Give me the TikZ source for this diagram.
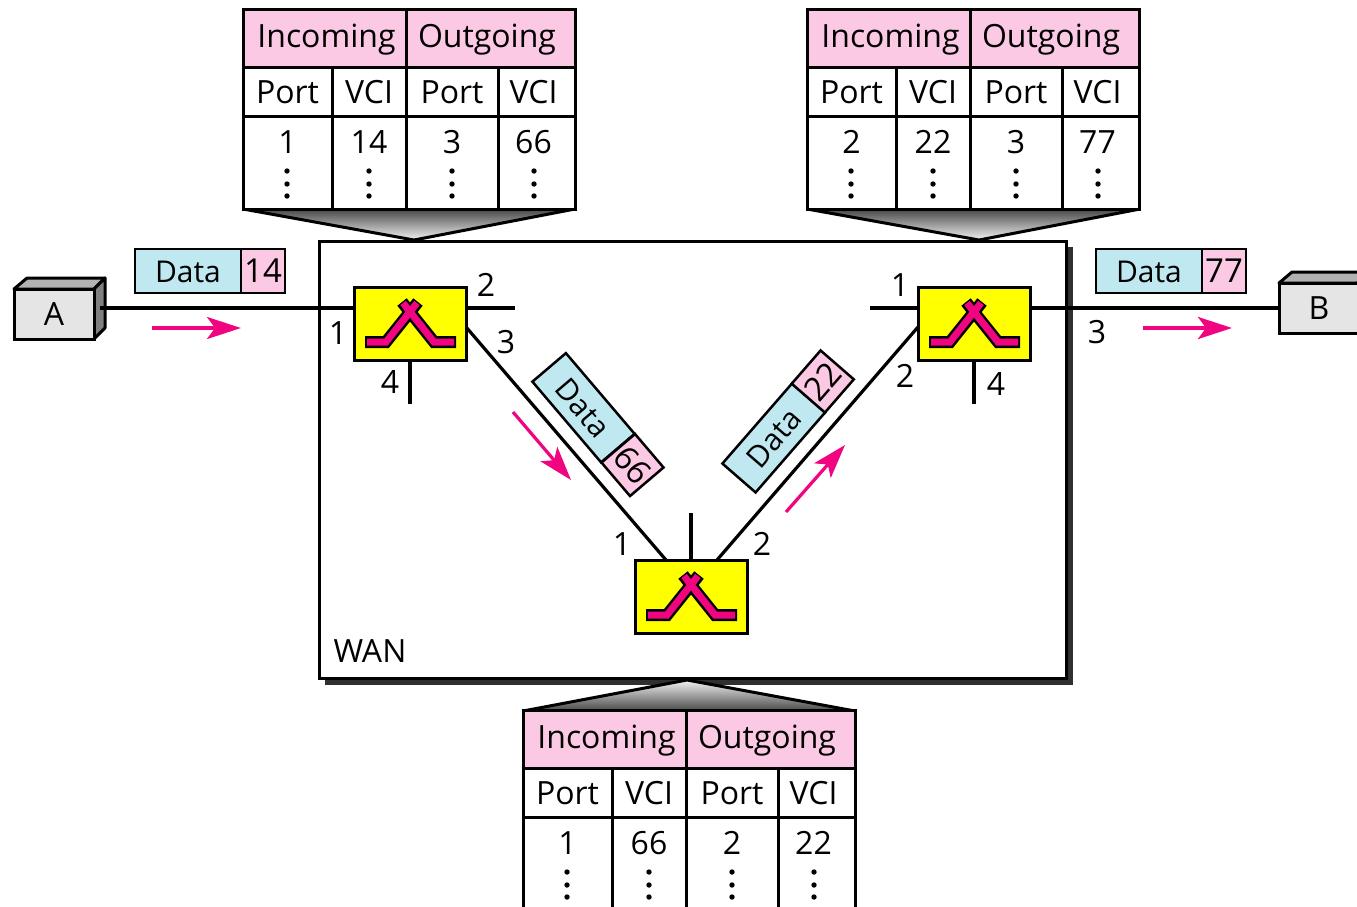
\documentclass[tikz,border=0pt]{standalone}
\usepackage{fontspec}
\setmainfont{Open Sans}
\usetikzlibrary{arrows.meta}
\definecolor{tpink}{HTML}{FCC9E4}
\definecolor{tblue}{HTML}{C0E8F0}
\definecolor{mag}{HTML}{F0047F}
\definecolor{shadowc}{HTML}{303030}
\definecolor{swyellow}{rgb}{1,1,0}
\tikzset{
  txt/.style={inner sep=0pt,outer sep=0pt,anchor=base,font=\fontsize{32}{36}\selectfont},
  cellbase/.style={draw=black,line width=3pt,inner sep=0pt,outer sep=0pt,font=\fontsize{32}{36}\selectfont,text height=23pt},
  headcell/.style={cellbase,fill=tpink,minimum width=#1,minimum height=58pt,text depth=5pt},
  subcell/.style={cellbase,fill=white,minimum width=#1,minimum height=49pt,text depth=0pt},
  valcell/.style={cellbase,fill=white,minimum width=#1,minimum height=93pt,text depth=41pt},
  tagblue/.style={draw=black,line width=2.5pt,fill=tblue,inner sep=0pt,outer sep=0pt,minimum width=#1,minimum height=44pt,font=\fontsize{30}{36}\selectfont,text height=22pt,text depth=0pt},
  tagpink/.style={draw=black,line width=2.5pt,fill=tpink,inner sep=0pt,outer sep=0pt,minimum width=#1,minimum height=44pt,font=\fontsize{33}{36}\selectfont,text height=23pt,text depth=0pt},
  link/.style={line width=3.2pt,draw=black},
  switchbox/.style={draw=black,line width=3pt,fill=swyellow,minimum width=112pt,minimum height=73pt,inner sep=0pt,outer sep=0pt},
  flow/.style={line width=3.2pt,draw=mag,-{Stealth[length=34pt,width=22pt,inset=8pt,fill=mag]}},
  hostfront/.style={draw=black,line width=3pt,fill=black!10,inner sep=0pt,outer sep=0pt,minimum width=80pt,minimum height=50pt,font=\fontsize{32}{36}\selectfont,text height=23pt,text depth=0pt},
}
% table: name prefix, x offset, y offset, four values
\newcommand{\vctable}[7]{%
  \begin{scope}[shift={(#2,#3)}]
    \node[headcell=163pt] (#1h1) at (324.5,38.5) {\kern4pt Incoming};
    \node[headcell=169pt] (#1h2) at (490.5,38.5) {Outgoing\kern7pt};
    \node[subcell=89pt] (#1s1) at (287.5,91.5) {Port};
    \node[subcell=74pt] (#1s2) at (369,91.5) {VCI};
    \node[subcell=92pt] (#1s3) at (452,91.5) {Port};
    \node[subcell=77pt] (#1s4) at (536.5,91.5) {VCI\kern6pt};
    \node[valcell=89pt] (#1v1) at (287.5,162.5) {#4};
    \node[valcell=74pt] (#1v2) at (369,162.5) {#5};
    \node[valcell=92pt] (#1v3) at (452,162.5) {#6};
    \node[valcell=77pt] (#1v4) at (536.5,162.5) {#7\kern6pt};
    \foreach \cx in {287,369,452,534}{
      \foreach \cy in {171,184,196}{
        \fill[black] (\cx,\cy) circle (2.7pt);
      }
    }
  \end{scope}%
}
% switch glyph, relative to the switch's top left corner
\newcommand{\switchicon}[2]{%
  \begin{scope}[shift={(#1,#2)}]
    \draw[line width=12pt,black,line join=miter] (11,55) -- (32,55) -- (64,15);
    \draw[line width=12pt,black,line join=miter] (102,55) -- (80,55) -- (48,15);
    \draw[line width=7pt,mag,line join=miter] (13,55) -- (32,55) -- (63,16);
    \draw[line width=7pt,mag,line join=miter] (100,55) -- (80,55) -- (49,16);
  \end{scope}%
}
\begin{document}
\begin{tikzpicture}[x=1pt,y=-1pt]
\useasboundingbox (0,0) rectangle (1357,906);
\clip (0,0) rectangle (1357,906);

% funnels
\path[draw=black,line width=3pt,top color=black!72,bottom color=black!5] (243,209) -- (414,240) -- (575,209) -- cycle;
\path[draw=black,line width=3pt,top color=black!72,bottom color=black!5] (807,209) -- (979,240) -- (1140,209) -- cycle;

% WAN box
\fill[shadowc] (325,247) rectangle (1073,685);
\node[draw=black,line width=3pt,fill=white,minimum width=747pt,minimum height=437pt,inner sep=0pt,outer sep=0pt] (wan) at (692.5,459.5) {};
\path[draw=black,line width=3pt,top color=black!5,bottom color=black!72] (523,711) -- (687,680) -- (855,711) -- cycle;

\vctable{a}{0}{0}{1}{14}{3}{66}
\vctable{b}{564}{0}{2}{22}{3}{77}
\vctable{c}{280}{701}{1}{66}{2}{22}

% hosts
\draw[line width=3pt,fill=black!30,line join=round] (14,289) -- (27,278) -- (105,278) -- (94,289) -- cycle;
\draw[line width=3pt,fill=black!50,line join=round] (94,289) -- (105,278) -- (105,328) -- (94,339) -- cycle;
\node[hostfront] (hostA) at (54,314) {A};
\draw[line width=3pt,fill=black!30,line join=round] (1279,283) -- (1292,272) -- (1370,272) -- (1357,283) -- cycle;
\node[hostfront,anchor=west] (hostB) at (1279,308) {B};

% port coordinates
\coordinate (aout) at (100,308);
\coordinate (s1w) at (354,308);
\coordinate (s1e) at (466,308);
\coordinate (s1two) at (515,308);
\coordinate (s1three) at (466,327);
\coordinate (s1top) at (410,360);
\coordinate (s1four) at (410,404);
\coordinate (s2e) at (1030,308);
\coordinate (s2w) at (918,308);
\coordinate (s2one) at (870,308);
\coordinate (s2two) at (918,327);
\coordinate (s2bot) at (974,360);
\coordinate (s2four) at (974,404);
\coordinate (s3one) at (666,560);
\coordinate (s3two) at (717,560);
\coordinate (s3top) at (691,560);
\coordinate (s3up) at (691,513);

\draw[link] (aout) -- (s1w);
\draw[link] (s1e) -- (s1two);
\draw[link] (s1three) -- (s3one);
\draw[link] (s1top) -- (s1four);
\draw[link] (s2one) -- (s2w);
\draw[link] (s2e) -- (hostB.west |- s2e);
\draw[link] (s2two) -- (s3two);
\draw[link] (s2bot) -- (s2four);
\draw[link] (s3top) -- (s3up);

% switches
\node[switchbox] (sw1) at (410,323.5) {};
\node[switchbox] (sw2) at (974,323.5) {};
\node[switchbox] (sw3) at (691,597) {};
\switchicon{354}{287}
\switchicon{918}{287}
\switchicon{635}{560}

% data tags
\node[tagblue=106pt] (d1) at (188,271) {Data};
\node[tagpink=44pt] (n1) at (263,271) {14};
\node[tagblue=106pt] (d2) at (1149,271) {Data};
\node[tagpink=44pt] (n2) at (1224,271) {77};
\node[tagblue=106pt,rotate=-49.6] (d3) at (583.5,407.75) {Data};
\node[tagpink=44pt,rotate=-49.6] (n3) at (632.5,465) {66};
\node[tagblue=106pt,rotate=49] (d4) at (773.75,438) {Data};
\node[tagpink=44pt,rotate=49] (n4) at (822.75,381.5) {22};

% flow arrows
\coordinate (f1a) at (152,328); \coordinate (f1b) at (241,328);
\coordinate (f2a) at (513,412); \coordinate (f2b) at (571,480);
\coordinate (f3a) at (786,512); \coordinate (f3b) at (845,445);
\coordinate (f4a) at (1143,328); \coordinate (f4b) at (1232,328);
\draw[flow] (f1a) -- (f1b);
\draw[flow] (f2a) -- (f2b);
\draw[flow] (f3a) -- (f3b);
\draw[flow] (f4a) -- (f4b);

% port numbers
\node[txt] (l1) at (486,296) {2};
\node[txt] (l2) at (338,344) {1};
\node[txt] (l3) at (506,353) {3};
\node[txt] (l4) at (390,393) {4};
\node[txt] (l5) at (900,296) {1};
\node[txt] (l6) at (1097,343) {3};
\node[txt] (l7) at (905,387) {2};
\node[txt] (l8) at (996,395) {4};
\node[txt] (l9) at (622,555) {1};
\node[txt] (l10) at (762,555) {2};
\node[txt] (wanlabel) at (370,662) {WAN};
\end{tikzpicture}
\end{document}
